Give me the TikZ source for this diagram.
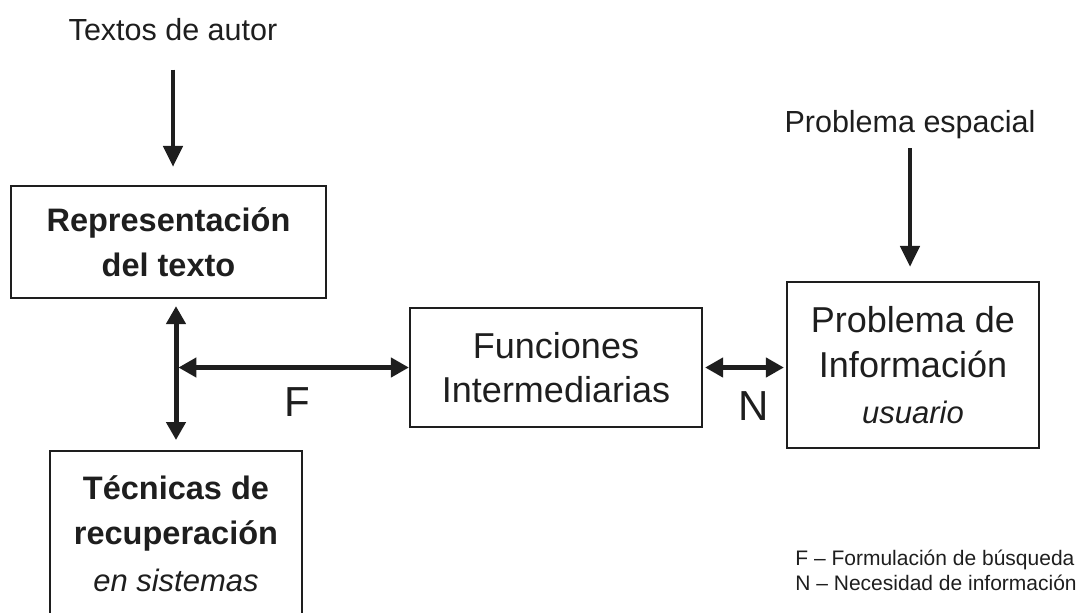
\documentclass[tikz,border=0pt]{standalone}
\usepackage{fontspec}
\setmainfont{Liberation Sans}
\usetikzlibrary{arrows.meta,positioning}
\definecolor{ink}{RGB}{30,30,30}

\begin{document}
\begin{tikzpicture}[x=0.5pt,y=-0.5pt,
    box/.style={draw=ink,line width=1.1pt,inner sep=0pt,align=center,text=ink},
    lbl/.style={text=ink,inner sep=0pt},
    arr/.style={draw=ink,line width=2.3pt,-{Triangle[length=10.5pt,width=9.5pt]}},
    darr/.style={draw=ink,line width=2.2pt,{Triangle[length=9pt,width=9.5pt]}-{Triangle[length=9pt,width=9.5pt]}}]
 \useasboundingbox (0,0) rectangle (1080,612);
 % boxes
 \node[box,minimum width=157.5pt,minimum height=56pt,
   font=\fontsize{16.25}{22.5}\selectfont\bfseries] (rep) at (168.5,242)
  {Representación\\del texto};
 \node[box,minimum width=126pt,minimum height=83pt,anchor=north,
   font=\fontsize{16.25}{22.5}\selectfont] (tec) at (176,450)
  {\bfseries Técnicas de\\\bfseries recuperación\\[1pt]\fontsize{15.5}{22.5}\selectfont\itshape en sistemas};
 \node[box,minimum width=146pt,minimum height=59.5pt,
   font=\fontsize{18}{22}\selectfont] (fun) at (556,367.5)
  {Funciones\\Intermediarias};
 \node[box,minimum width=126pt,minimum height=83pt,
   font=\fontsize{18}{22.75}\selectfont] (prob) at (913,365)
  {Problema de\\Información\\\fontsize{15.5}{22.75}\selectfont\itshape usuario};
 % labels
 \node[lbl,anchor=base,font=\fontsize{15.25}{18}\selectfont] (txt) at (173,40) {Textos de autor};
 \node[lbl,anchor=base,font=\fontsize{15.25}{18}\selectfont] (esp) at (910,132) {Problema espacial};
 \node[lbl,anchor=base,font=\fontsize{21}{25}\selectfont] (flab) at (297,416) {F};
 \node[lbl,anchor=base,font=\fontsize{21}{25}\selectfont] (nlab) at (754,420) {N};
 \node[lbl,anchor=base west,font=\fontsize{10.5}{12.5}\selectfont] (legf) at (795,565)
  {F -- Formulación de búsqueda};
 \node[lbl,anchor=base west,font=\fontsize{10.5}{12.5}\selectfont] (legn) at (795,590)
  {N -- Necesidad de información};
 % connectors
 \coordinate (fj) at (tec.north |- fun.west);
 \draw[arr,shorten <=14.5pt,shorten >=9pt] (txt.south) -- (txt.south |- rep.north);
 \draw[arr,shorten <=4.8pt,shorten >=7pt] (esp.south) -- (esp.south |- prob.north);
 \draw[darr,line width=2.5pt,shorten <=3.5pt,shorten >=5pt] (rep.south -| tec.north) -- (tec.north);
 \draw[darr,shorten <=1.2pt] (fj) -- (fun.west);
 \draw[darr,shorten <=1pt,shorten >=1pt] (fun.east) -- (fun.east -| prob.west);
\end{tikzpicture}
\end{document}
